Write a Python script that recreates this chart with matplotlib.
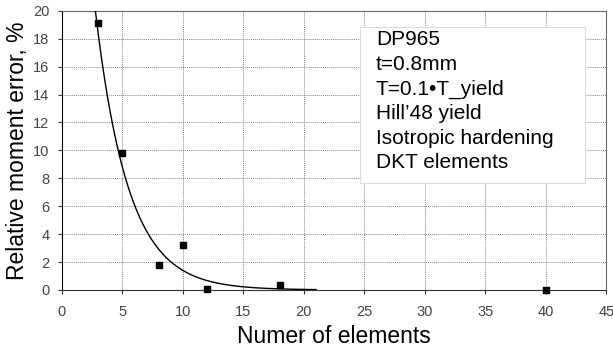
import matplotlib
matplotlib.use('Agg')
import matplotlib.pyplot as plt
from matplotlib.patches import Rectangle
import numpy as np

plt.rcParams['font.family'] = ['Liberation Sans', 'DejaVu Sans']

# measured points
n_elements = [3, 5, 8, 10, 12, 18, 40]
moment_error = [19.1, 9.8, 1.8, 3.2, 0.1, 0.35, 0.0]

# exponential trendline y = a*exp(-b*x), coefficients
trend_a = 55.4
trend_b = 0.368
trend_range = (2.77, 21.0)

info_lines = ['DP965', 't=0.8mm', 'T=0.1\u2022T_yield', 'Hill\u201948 yield',
              'Isotropic hardening', 'DKT elements']

fig = plt.figure(figsize=(6.13, 3.51), dpi=100)
ax = fig.add_axes([0.101, 0.174, 0.888, 0.795])

xs = np.linspace(trend_range[0], trend_range[1], 300)
ax.plot(xs, trend_a * np.exp(-trend_b * xs), color='black', lw=1.0, zorder=3)
ax.scatter(n_elements, moment_error, marker='s', s=18, color='black', zorder=4,
           clip_on=False)

ax.set_xlim(0, 45)
ax.set_ylim(0, 20)
ax.set_xticks(range(0, 46, 5))
ax.set_yticks(range(0, 21, 2))
ax.grid(True, color='#888888', linestyle=(0, (1, 1)), lw=0.7)
ax.set_axisbelow(True)
ax.tick_params(labelsize=10.5, labelcolor='#444444', color='#333333',
               length=3, width=0.8)
ax.tick_params(axis='x', pad=8)
ax.tick_params(axis='y', pad=6)
for s in ['top', 'right']:
    ax.spines[s].set_color('#666666')
ax.spines['left'].set_color('black')
ax.spines['bottom'].set_color('#333333')

ax.set_xlabel('Numer of elements', fontsize=16.5, labelpad=4)
ax.set_ylabel('Relative moment error, %', fontsize=16.5, labelpad=3)

# legend-like info box
ax.add_patch(Rectangle((0.548, 0.384), 0.413, 0.56, transform=ax.transAxes,
                       facecolor='white', edgecolor='#dddddd', lw=0.8,
                       zorder=5))
ax.text(0.577, 0.93, '\n'.join(info_lines), transform=ax.transAxes,
        fontsize=15, va='top', ha='left', linespacing=1.37, zorder=6)

fig.savefig('out.png', dpi=100)
